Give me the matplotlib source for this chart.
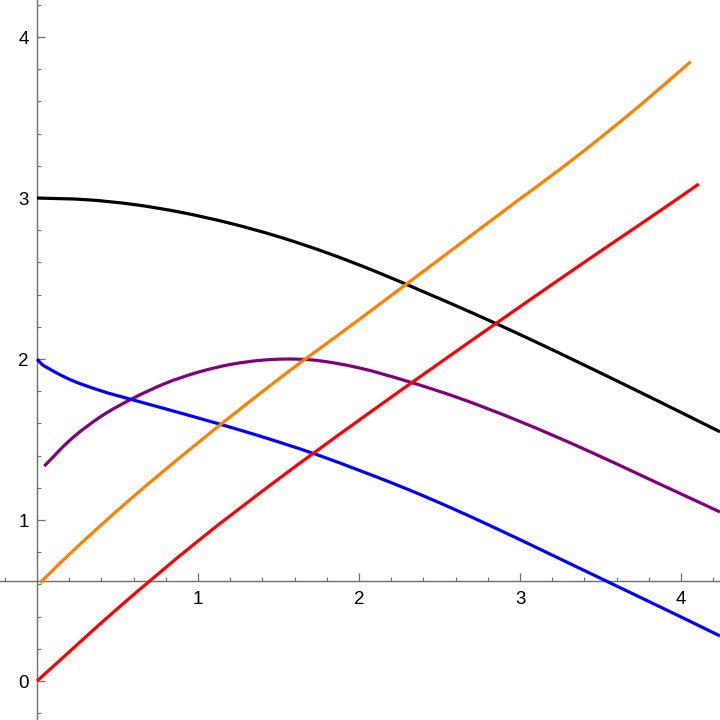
import matplotlib
matplotlib.use("Agg")
import matplotlib.pyplot as plt
import numpy as np
from matplotlib.path import Path
from matplotlib.patches import PathPatch
from matplotlib.ticker import MultipleLocator, FixedLocator

# --- data ---
black_x = [0, 0.3, 0.6, 0.9, 1.2, 1.5, 1.8, 2.1, 2.4, 2.7, 3.0, 3.3, 3.6, 3.9, 4.242]
black_y = [3.0, 2.99, 2.96, 2.91, 2.843, 2.76, 2.66, 2.545, 2.418, 2.288, 2.152, 2.01, 1.865, 1.718, 1.548]

orange_x = [0.02, 0.1, 0.5, 1.0, 1.5, 2.0, 2.5, 3.0, 3.25, 3.5, 3.75, 4.06]
orange_y = [0.61, 0.69, 1.06, 1.48, 1.875, 2.245, 2.62, 2.995, 3.18, 3.375, 3.58, 3.847]

red_x = [0, 0.5, 1.0, 1.5, 2.0, 2.5, 3.0, 3.5, 4.0, 4.11]
red_y = [0, 0.45, 0.87, 1.255, 1.62, 1.975, 2.325, 2.67, 3.01, 3.087]

purple_x = [0.045, 0.2, 0.4, 0.6, 0.8, 1.0, 1.2, 1.4, 1.55, 1.7, 1.85, 2.0, 2.3, 2.6, 3.0, 3.4, 3.8, 4.242]
purple_y = [1.335, 1.492, 1.645, 1.758, 1.85, 1.918, 1.966, 1.993, 2.0, 1.995, 1.975, 1.945, 1.862, 1.765, 1.612, 1.44, 1.255, 1.05]

blue_x = [0, 0.03, 0.08, 0.18, 0.39, 0.6, 0.8, 1.0, 1.25, 1.5, 1.75, 2.0, 2.2, 2.4, 2.6, 2.8, 3.2, 3.6, 4.0, 4.242]
blue_y = [2.0, 1.968, 1.937, 1.884, 1.805, 1.745, 1.69, 1.634, 1.562, 1.485, 1.402, 1.309, 1.232, 1.15, 1.063, 0.972, 0.782, 0.59, 0.398, 0.28]

x_ticks = [1, 2, 3, 4]
y_ticks = [0, 1, 2, 3, 4]
x_axis_cross = 0.623

plt.rcParams['font.family'] = ['Liberation Sans', 'DejaVu Sans']

fig = plt.figure(figsize=(7.2, 7.2), dpi=100)
ax = fig.add_axes([0, 0, 1, 1])
ax.set_xlim(-0.23, 4.242)
ax.set_ylim(-0.242, 4.23)


def smooth_path(xs, ys):
    """Cubic Hermite curve through the read points, drawn as Bezier segments."""
    x = np.asarray(xs, float)
    y = np.asarray(ys, float)
    h = np.diff(x)
    d = np.diff(y) / h
    n = len(x)
    m = np.empty(n)
    m[0] = d[0]
    m[-1] = d[-1]
    for i in range(1, n - 1):
        m[i] = (d[i - 1] * h[i] + d[i] * h[i - 1]) / (h[i - 1] + h[i])
    verts = [(x[0], y[0])]
    codes = [Path.MOVETO]
    for i in range(n - 1):
        verts += [(x[i] + h[i] / 3, y[i] + m[i] * h[i] / 3),
                  (x[i + 1] - h[i] / 3, y[i + 1] - m[i + 1] * h[i] / 3),
                  (x[i + 1], y[i + 1])]
        codes += [Path.CURVE4] * 3
    return Path(verts, codes)


lw = 2.3
series = [
    (black_x, black_y, 'black'),
    (purple_x, purple_y, '#800080'),
    (blue_x, blue_y, '#0000FF'),
    (orange_x, orange_y, '#FF8000'),
    (red_x, red_y, '#FF0000'),
]
for xs, ys, c in series:
    ax.add_patch(PathPatch(smooth_path(xs, ys), facecolor='none', edgecolor=c,
                           lw=lw, capstyle='butt', joinstyle='round', zorder=3))

axis_color = '#6e6e6e'
for s in ['top', 'right']:
    ax.spines[s].set_visible(False)
ax.spines['left'].set_position(('data', 0))
ax.spines['bottom'].set_position(('data', x_axis_cross))
for s in ['left', 'bottom']:
    ax.spines[s].set_color(axis_color)
    ax.spines[s].set_linewidth(1.0)
    ax.spines[s].set_zorder(0)

ax.xaxis.set_major_locator(FixedLocator(x_ticks))
ax.yaxis.set_major_locator(FixedLocator(y_ticks))
ax.xaxis.set_minor_locator(MultipleLocator(0.2))
ax.yaxis.set_minor_locator(MultipleLocator(0.2))

ax.tick_params(which='both', direction='in', color=axis_color, labelsize=13.5, labelcolor='black')
ax.tick_params(which='major', length=5.5, width=0.9)
ax.tick_params(which='minor', length=3.2, width=0.8)
ax.tick_params(axis='x', which='major', pad=7.5)
ax.tick_params(axis='y', which='major', pad=6)

ax.set_facecolor('white')
fig.savefig('out.png', dpi=100, facecolor='white')
